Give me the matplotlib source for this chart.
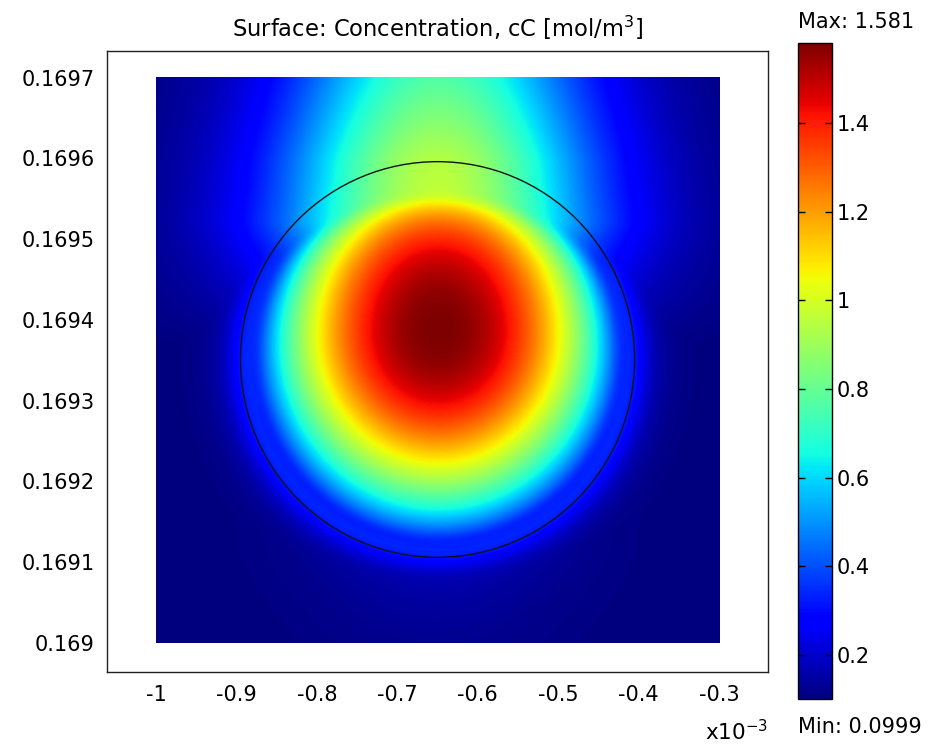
import numpy as np
import matplotlib
matplotlib.use("Agg")
import matplotlib.pyplot as plt
from matplotlib.patches import Circle

# geometry (mm) and concentration range [mol/m^3]
x_lim = (-1.0, -0.3)
y_lim = (0.1690, 0.1697)
circle_center = (-0.65, 0.169351)
circle_radius = 0.245
hot_spot = (-0.649, 0.169388)
c_min = 0.0999
c_max = 1.581

x_ticks = [-1, -0.9, -0.8, -0.7, -0.6, -0.5, -0.4, -0.3]
y_ticks = [0.169, 0.1691, 0.1692, 0.1693, 0.1694, 0.1695, 0.1696, 0.1697]
cbar_ticks = [0.2, 0.4, 0.6, 0.8, 1.0, 1.2, 1.4]

# plume above the drop: height (mm above 0.169), excess level, half-width (mm)
plume_height = [0.36, 0.44, 0.52, 0.60, 0.70]
plume_level = [0.0, 0.45, 0.88, 0.84, 0.66]
plume_width = [0.205, 0.20, 0.197, 0.192, 0.185]


def blur(a, sigma):
    r = int(3 * sigma)
    k = np.exp(-0.5 * (np.arange(-r, r + 1) / sigma) ** 2)
    k /= k.sum()
    p = np.pad(a, r, mode="edge")
    p = np.apply_along_axis(lambda v: np.convolve(v, k, mode="valid"), 0, p)
    p = np.apply_along_axis(lambda v: np.convolve(v, k, mode="valid"), 1, p)
    return p


n = 560
xs = np.linspace(x_lim[0], x_lim[1], n)
ys_mm = np.linspace(0, 0.7, n)
X, Y = np.meshgrid(xs, ys_mm)

cx, cy = circle_center[0], (circle_center[1] - 0.169) * 1e3
hx, hy = hot_spot[0], (hot_spot[1] - 0.169) * 1e3
R = circle_radius
r = np.hypot(X - cx, Y - cy)

# blob inside the drop, flat-topped and stretched a little upward
sy = 0.165 + 0.010 * (1 + np.tanh((Y - hy) / 0.06))
q = (X - hx) ** 2 / (2 * 0.151 ** 2) + (Y - hy) ** 2 / (2 * sy ** 2)
blob = 1.48 * np.exp(-q ** 1.2)
taper = np.clip(1 - (r / R) ** 9, 0, 1)
blob = blob * taper

# bright rim at the interface, fading quickly outside
halo = 0.24 * np.exp(-np.clip(r - R, 0, None) / 0.02) * (r >= R * 0.93)

# plume carried upward
dx = X - cx
amp = np.interp(Y, plume_height, plume_level)
width = np.interp(Y, plume_height, plume_width)
plume = amp * np.exp(-(dx / width) ** 2)

# faint wake below the drop
below = np.clip(cy - R - Y, 0, None)
wake = 0.09 * np.exp(-(dx / 0.15) ** 2) * np.exp(-below / 0.08) * (Y < cy - 0.15)

field = np.maximum.reduce([blob, halo, plume, wake])
field = blur(field, 4)
field = c_min + (c_max - c_min) * (field - field.min()) / (field.max() - field.min())

fig = plt.figure(figsize=(9.48, 7.47), dpi=100)
fig.patch.set_facecolor("white")
ax = fig.add_axes([0.1129, 0.1004, 0.6973, 0.8313])

im = ax.imshow(field, origin="lower", cmap="jet", vmin=c_min, vmax=c_max,
               extent=(x_lim[0] * 1e-3, x_lim[1] * 1e-3, y_lim[0], y_lim[1]),
               aspect="auto", interpolation="bilinear")
ax.add_patch(Circle((circle_center[0] * 1e-3, circle_center[1]), circle_radius * 1e-3,
                    fill=False, ec="#111111", lw=1.0))

ax.set_xlim(-1.0609e-3, -0.2391e-3)
ax.set_ylim(0.168964, 0.169733)
ax.set_xticks([v * 1e-3 for v in x_ticks])
ax.set_xticklabels([f"{v:g}" for v in x_ticks])
ax.set_yticks(y_ticks)
ax.set_yticklabels([f"{v:g}" for v in y_ticks])
ax.tick_params(length=0, labelsize=15, pad=9)
for s in ax.spines.values():
    s.set_linewidth(1.0)
    s.set_color("#222222")
ax.set_title("Surface: Concentration, cC [mol/m$^3$]", fontsize=16.3, pad=10)
fig.text(0.810, 0.009, "x10$^{-3}$", ha="right", va="baseline", fontsize=15.5)

cax = fig.add_axes([0.8418, 0.0643, 0.0359, 0.878])
cb = fig.colorbar(im, cax=cax, ticks=cbar_ticks)
cb.ax.set_yticklabels([f"{v:g}" for v in cbar_ticks])
cb.ax.tick_params(direction="in", length=5, width=1, left=True, right=True,
                  labelsize=15, pad=3)
cb.outline.set_linewidth(1.0)
fig.text(0.8418, 0.971, f"Max: {c_max:g}", fontsize=15, va="center")
fig.text(0.8418, 0.027, f"Min: {c_min:g}", fontsize=15, va="center")

fig.savefig("out.png", dpi=100)
